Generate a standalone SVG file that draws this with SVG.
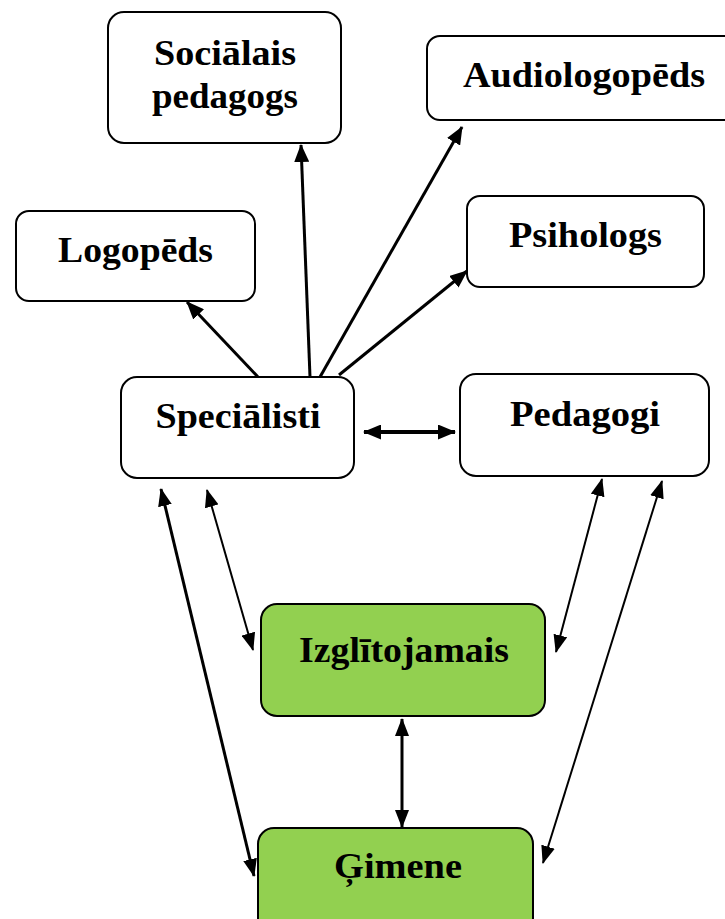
<svg xmlns="http://www.w3.org/2000/svg" width="725" height="919" viewBox="0 0 725 919">
  <style>
    .box { fill: #ffffff; stroke: #000000; stroke-width: 2; }
    .green { fill: #92D050; stroke: #000000; stroke-width: 2; }
    .lbl { font-family: "Liberation Serif", "Times New Roman", serif; font-weight: bold; font-size: 35px; fill: #000000; text-anchor: middle; }
    .c { stroke: #000000; fill: none; }
  </style>
  <defs>
    <marker id="ah" markerUnits="userSpaceOnUse" viewBox="0 0 18 15" refX="17" refY="7.5" markerWidth="18" markerHeight="15" orient="auto-start-reverse">
      <path d="M0,0 L18,7.5 L0,15 z" fill="#000000"/>
    </marker>
    <marker id="ahs" markerUnits="userSpaceOnUse" viewBox="0 0 18 14" refX="17" refY="7" markerWidth="18" markerHeight="14" orient="auto-start-reverse">
      <path d="M0,0 L18,7 L0,14 z" fill="#000000"/>
    </marker>
  </defs>

  <g id="connectors">
    <line class="c" x1="258" y1="377" x2="187" y2="302" stroke-width="3" marker-end="url(#ah)"/>
    <line class="c" x1="310" y1="377" x2="301" y2="145" stroke-width="3" marker-end="url(#ah)"/>
    <line class="c" x1="320" y1="377" x2="462" y2="127" stroke-width="3" marker-end="url(#ah)"/>
    <line class="c" x1="339" y1="375" x2="467" y2="271" stroke-width="3" marker-end="url(#ah)"/>
    <line class="c" x1="364" y1="432" x2="455" y2="432" stroke-width="4" marker-start="url(#ah)" marker-end="url(#ah)"/>
    <line class="c" x1="207" y1="490" x2="253" y2="650" stroke-width="2" marker-start="url(#ahs)" marker-end="url(#ahs)"/>
    <line class="c" x1="161" y1="489" x2="254" y2="876" stroke-width="3" marker-start="url(#ahs)" marker-end="url(#ahs)"/>
    <line class="c" x1="602" y1="479" x2="556" y2="652" stroke-width="2" marker-start="url(#ahs)" marker-end="url(#ahs)"/>
    <line class="c" x1="662" y1="481" x2="543" y2="863" stroke-width="2" marker-start="url(#ahs)" marker-end="url(#ahs)"/>
    <line class="c" x1="402" y1="719" x2="402" y2="827" stroke-width="3" marker-start="url(#ahs)" marker-end="url(#ahs)"/>
  </g>

  <g id="socialais-pedagogs">
    <rect class="box" x="108" y="12" width="233" height="131" rx="16"/>
    <text class="lbl" x="225" y="65" textLength="142" lengthAdjust="spacingAndGlyphs">Sociālais</text>
    <text class="lbl" x="225" y="108" textLength="146" lengthAdjust="spacingAndGlyphs">pedagogs</text>
  </g>

  <g id="audiologopeds">
    <rect class="box" x="427" y="36" width="310" height="84" rx="13"/>
    <text class="lbl" x="584" y="87" textLength="242" lengthAdjust="spacingAndGlyphs">Audiologopēds</text>
  </g>

  <g id="logopeds">
    <rect class="box" x="16" y="211" width="239" height="90" rx="13"/>
    <text class="lbl" x="135.5" y="262" textLength="155" lengthAdjust="spacingAndGlyphs">Logopēds</text>
  </g>

  <g id="psihologs">
    <rect class="box" x="467" y="196" width="237" height="91" rx="13"/>
    <text class="lbl" x="585.5" y="247" textLength="153" lengthAdjust="spacingAndGlyphs">Psihologs</text>
  </g>

  <g id="specialisti">
    <rect class="box" x="121" y="377" width="233" height="101" rx="16"/>
    <text class="lbl" x="238" y="428" textLength="165" lengthAdjust="spacingAndGlyphs">Speciālisti</text>
  </g>

  <g id="pedagogi">
    <rect class="box" x="460" y="374" width="249" height="102" rx="16"/>
    <text class="lbl" x="585" y="426" textLength="150" lengthAdjust="spacingAndGlyphs">Pedagogi</text>
  </g>

  <g id="izglitojamais">
    <rect class="green" x="261" y="604" width="284" height="112" rx="16"/>
    <text class="lbl" x="404" y="662" textLength="210" lengthAdjust="spacingAndGlyphs">Izglītojamais</text>
  </g>

  <g id="gimene">
    <rect class="green" x="258" y="828" width="275" height="110" rx="16"/>
    <text class="lbl" x="398" y="878" textLength="128" lengthAdjust="spacingAndGlyphs">Ģimene</text>
  </g>
</svg>
